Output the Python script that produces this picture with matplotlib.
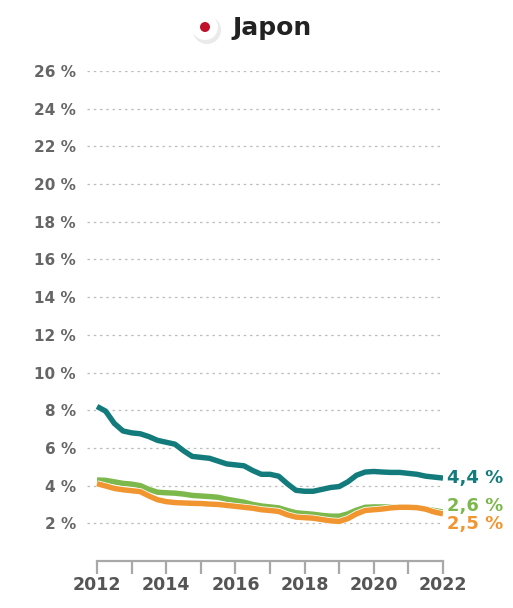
import matplotlib.pyplot as plt
import matplotlib.patheffects as pe
import numpy as np
from matplotlib.patches import Circle

# quarterly points, 2012 Q1 -> 2022 Q1
YEARS = np.arange(2012, 2022.01, 0.25)
TEAL = [8.2, 7.95, 7.3, 6.9, 6.8, 6.75, 6.6, 6.4, 6.3, 6.2, 5.85, 5.55, 5.5, 5.45,
        5.3, 5.15, 5.1, 5.05, 4.8, 4.6, 4.6, 4.5, 4.1, 3.75, 3.7, 3.7, 3.8, 3.9,
        3.95, 4.2, 4.55, 4.72, 4.75, 4.72, 4.7, 4.7, 4.65, 4.6, 4.5, 4.45, 4.4]
GREEN = [4.3, 4.28, 4.2, 4.12, 4.08, 4.0, 3.8, 3.65, 3.62, 3.6, 3.55, 3.48, 3.45,
         3.42, 3.38, 3.28, 3.2, 3.12, 3.0, 2.92, 2.87, 2.82, 2.68, 2.56, 2.52, 2.48,
         2.42, 2.38, 2.38, 2.5, 2.7, 2.85, 2.87, 2.87, 2.86, 2.85, 2.85, 2.82, 2.76,
         2.68, 2.6]
ORANGE = [4.1, 3.98, 3.85, 3.78, 3.73, 3.68, 3.45, 3.25, 3.15, 3.1, 3.08, 3.06, 3.05,
          3.02, 3.0, 2.95, 2.9, 2.85, 2.8, 2.72, 2.68, 2.63, 2.45, 2.33, 2.3, 2.27,
          2.2, 2.13, 2.1, 2.25, 2.5, 2.68, 2.72, 2.76, 2.82, 2.85, 2.85, 2.83, 2.75,
          2.6, 2.5]
END_LABELS = ["4,4 %", "2,6 %", "2,5 %"]
COLORS = ["#137b7b", "#7cb84c", "#f0952f"]
Y_TICKS = list(range(2, 27, 2))
X_TICKS = list(range(2012, 2023))

plt.rcParams["font.family"] = ["DejaVu Sans"]
fig = plt.figure(figsize=(5.13, 6.08), dpi=100)
ax = fig.add_axes([87 / 513, 47 / 608, (443 - 87) / 513, (537 - 47) / 608])
ax.set_xlim(2011.71, 2022)
ax.set_ylim(0, 26)

# light dotted grid
for y in Y_TICKS:
    ax.axhline(y, color="#bdbdbd", lw=0.9, ls=(0, (2, 3)), zorder=1)

for vals, col in zip([TEAL, GREEN, ORANGE], COLORS):
    ax.plot(YEARS, vals, color=col, lw=3.9, solid_capstyle="butt", zorder=3,
            path_effects=[pe.Stroke(linewidth=5, foreground="white"), pe.Normal()])

for vals, lab, col, dy in zip([TEAL, GREEN, ORANGE], END_LABELS, COLORS, [0, 0.3, -0.55]):
    ax.text(2022.12, vals[-1] + dy, lab, color=col, fontsize=13, fontweight="bold",
            va="center", ha="left", clip_on=False)

for s in ["top", "right", "left"]:
    ax.spines[s].set_visible(False)
ax.spines["bottom"].set_bounds(2012, 2022)
ax.spines["bottom"].set_color("#a8a8a8")
ax.spines["bottom"].set_linewidth(1.6)

ax.set_xticks(X_TICKS)
ax.set_xticklabels([str(y) if y % 2 == 0 else "" for y in X_TICKS])
ax.tick_params(axis="x", length=9, width=1.6, color="#a8a8a8",
               labelsize=12.5, labelcolor="#555555", pad=2)
ax.set_yticks(Y_TICKS)
ax.set_yticklabels([f"{y} %" for y in Y_TICKS])
ax.tick_params(axis="y", length=0, labelsize=11, labelcolor="#666666", pad=8)
for t in ax.get_xticklabels() + ax.get_yticklabels():
    t.set_fontweight("bold")

# title with flag marker
fig.patches.append(Circle((207, 608 - 30), 14, transform=None, facecolor="#dcdcdc",
                          edgecolor="none", alpha=0.6))
fig.patches.append(Circle((205, 608 - 27), 13, transform=None, facecolor="white",
                          edgecolor="none"))
fig.patches.append(Circle((205, 608 - 27), 5, transform=None, facecolor="#c0102a",
                          edgecolor="none"))
fig.text(232 / 513, 1 - 28 / 608, "Japon", fontsize=18, fontweight="bold",
         color="#222222", va="center", ha="left")

fig.savefig("out.png", dpi=100, facecolor="white")
